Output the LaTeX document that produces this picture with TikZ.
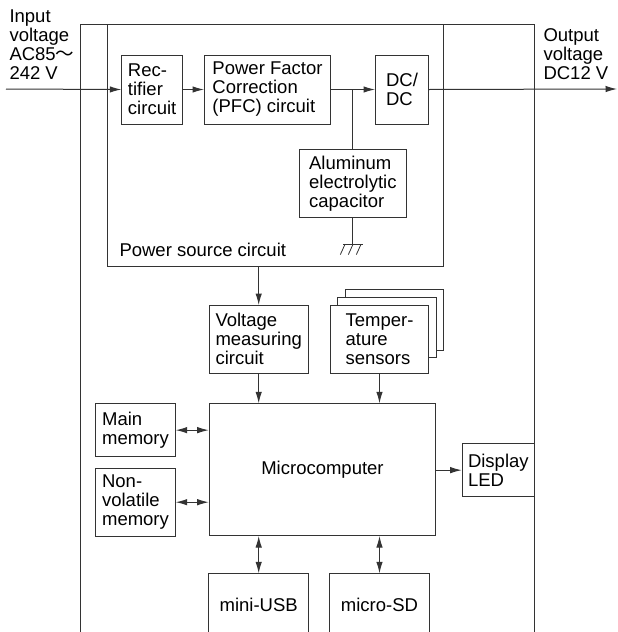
\documentclass[tikz,border=0pt]{standalone}
\usepackage{fontspec}
\setmainfont{Liberation Sans}
\newfontfamily\cjk{Noto Sans CJK JP}
\usetikzlibrary{arrows.meta}
\colorlet{lc}{black!80}
\begin{document}
\begin{tikzpicture}[x=1pt,y=-1pt,
  line width=1pt, color=lc,
  every node/.style={font=\fontsize{18.5}{19}\selectfont, text=black, inner sep=1pt, align=left},
  box/.style={draw=lc, fill=white, anchor=north west},
  openbox/.style={anchor=north west},
  arr/.style={-{Latex[length=11.5pt,width=6.5pt]}},
  darr/.style={{Latex[length=11.5pt,width=6.5pt]}-{Latex[length=11.5pt,width=6.5pt]}},
  gndline/.style={line width=0.8pt}]
\useasboundingbox (0,0) rectangle (618,632);

% outer frame (open at the bottom)
\draw (80,640) |- (534,24) -- (534,640);

% power source circuit
\node[box, fill=none, minimum width=336.5, minimum height=242] (psc) at (106.5,24) {};
\node[anchor=base west, inner sep=0] (psclabel) at (119,256) {Power source circuit};

\node[box, minimum width=60.7, minimum height=69] (rect) at (121.3,54.5) {Rec-\\tifier\\circuit};
\node[box, minimum width=126, minimum height=69] (pfc) at (204,54.5) {Power Factor\\Correction\\(PFC) circuit};
\node[box, minimum width=53, minimum height=69] (dcdc) at (375,54.5) {DC/\\DC};
\node[box, minimum width=106.7, minimum height=68.3] (cap) at (299,149) {Aluminum\\electrolytic\\capacitor};

% texts of input and output
\node[anchor=north west, inner sep=0] (intxt) at (9,9.45) {Input\\voltage\\AC85{\cjk 〜}\\242 V};
\node[anchor=north west, inner sep=0] (outtxt) at (543,27.75) {Output\\voltage\\DC12 V};
\coordinate (in) at (6,89);
\coordinate (out) at (617,89);

% measuring and sensors
\node[box, minimum width=99, minimum height=67.7] (vm) at (208.7,305) {Voltage\\measuring\\circuit};
\node[box, minimum width=98.3, minimum height=60.7] (ts3) at (345,289.3) {};
\node[box, minimum width=98.7, minimum height=60.6] (ts2) at (337.3,296.7) {};
\node[box, minimum width=98.6, minimum height=67.7] (ts) at (329.7,305) {Temper-\\ature\\sensors};

% microcomputer and peripherals
\node[box, minimum width=226.6, minimum height=131.7] (mc) at (208.7,403.3) {Microcomputer};
\node[box, minimum width=79.4, minimum height=52.7] (mm) at (95.3,403.3) {Main\\memory};
\node[box, minimum width=79.4, minimum height=68] (nvm) at (95.3,467.7) {Non-\\volatile\\memory};
\node[box, minimum width=72.3, minimum height=52.7] (led) at (461.7,443.3) {Display\\LED};
\node[openbox, minimum width=99, minimum height=61.5] (usb) at (208.7,573.3) {mini-USB};
\node[openbox, minimum width=98.6, minimum height=61.5] (sd) at (329.7,573.3) {micro-SD};
\draw (usb.south west) -- (usb.north west) -- (usb.north east) -- (usb.south east);
\draw (sd.south west) -- (sd.north west) -- (sd.north east) -- (sd.south east);

% connectors
\draw[arr] (in) -- (rect.west);
\draw[arr] (rect.east) -- (pfc.west);
\draw[arr] (pfc.east) -- (dcdc.west);
\draw[arr] (dcdc.east) -- (out);
\draw (cap.north) -- (cap.north |- pfc.east);
\draw (cap.south) -- ++(0,26.3) coordinate (gnd);
\draw[gndline] (gnd) ++(-9.5,0) -- ++(20,0);
\draw[gndline] (gnd) ++(-8,0) -- ++(-4.5,10);
\draw[gndline] (gnd) ++(0,0) -- ++(-4.5,10);
\draw[gndline] (gnd) ++(8,0) -- ++(-4.5,10);

\draw[arr] (vm.north |- psc.south) -- (vm.north);
\draw[arr] (vm.south) -- (vm.south |- mc.north);
\draw[arr] (ts.south) -- (ts.south |- mc.north);
\draw[darr] (mm.east) -- (mm.east -| mc.west);
\draw[darr] (nvm.east) -- (nvm.east -| mc.west);
\draw[arr] (mc.east |- led.west) -- (led.west);
\draw[darr] (usb.north |- mc.south) -- (usb.north);
\draw[darr] (sd.north |- mc.south) -- (sd.north);
\end{tikzpicture}
\end{document}
